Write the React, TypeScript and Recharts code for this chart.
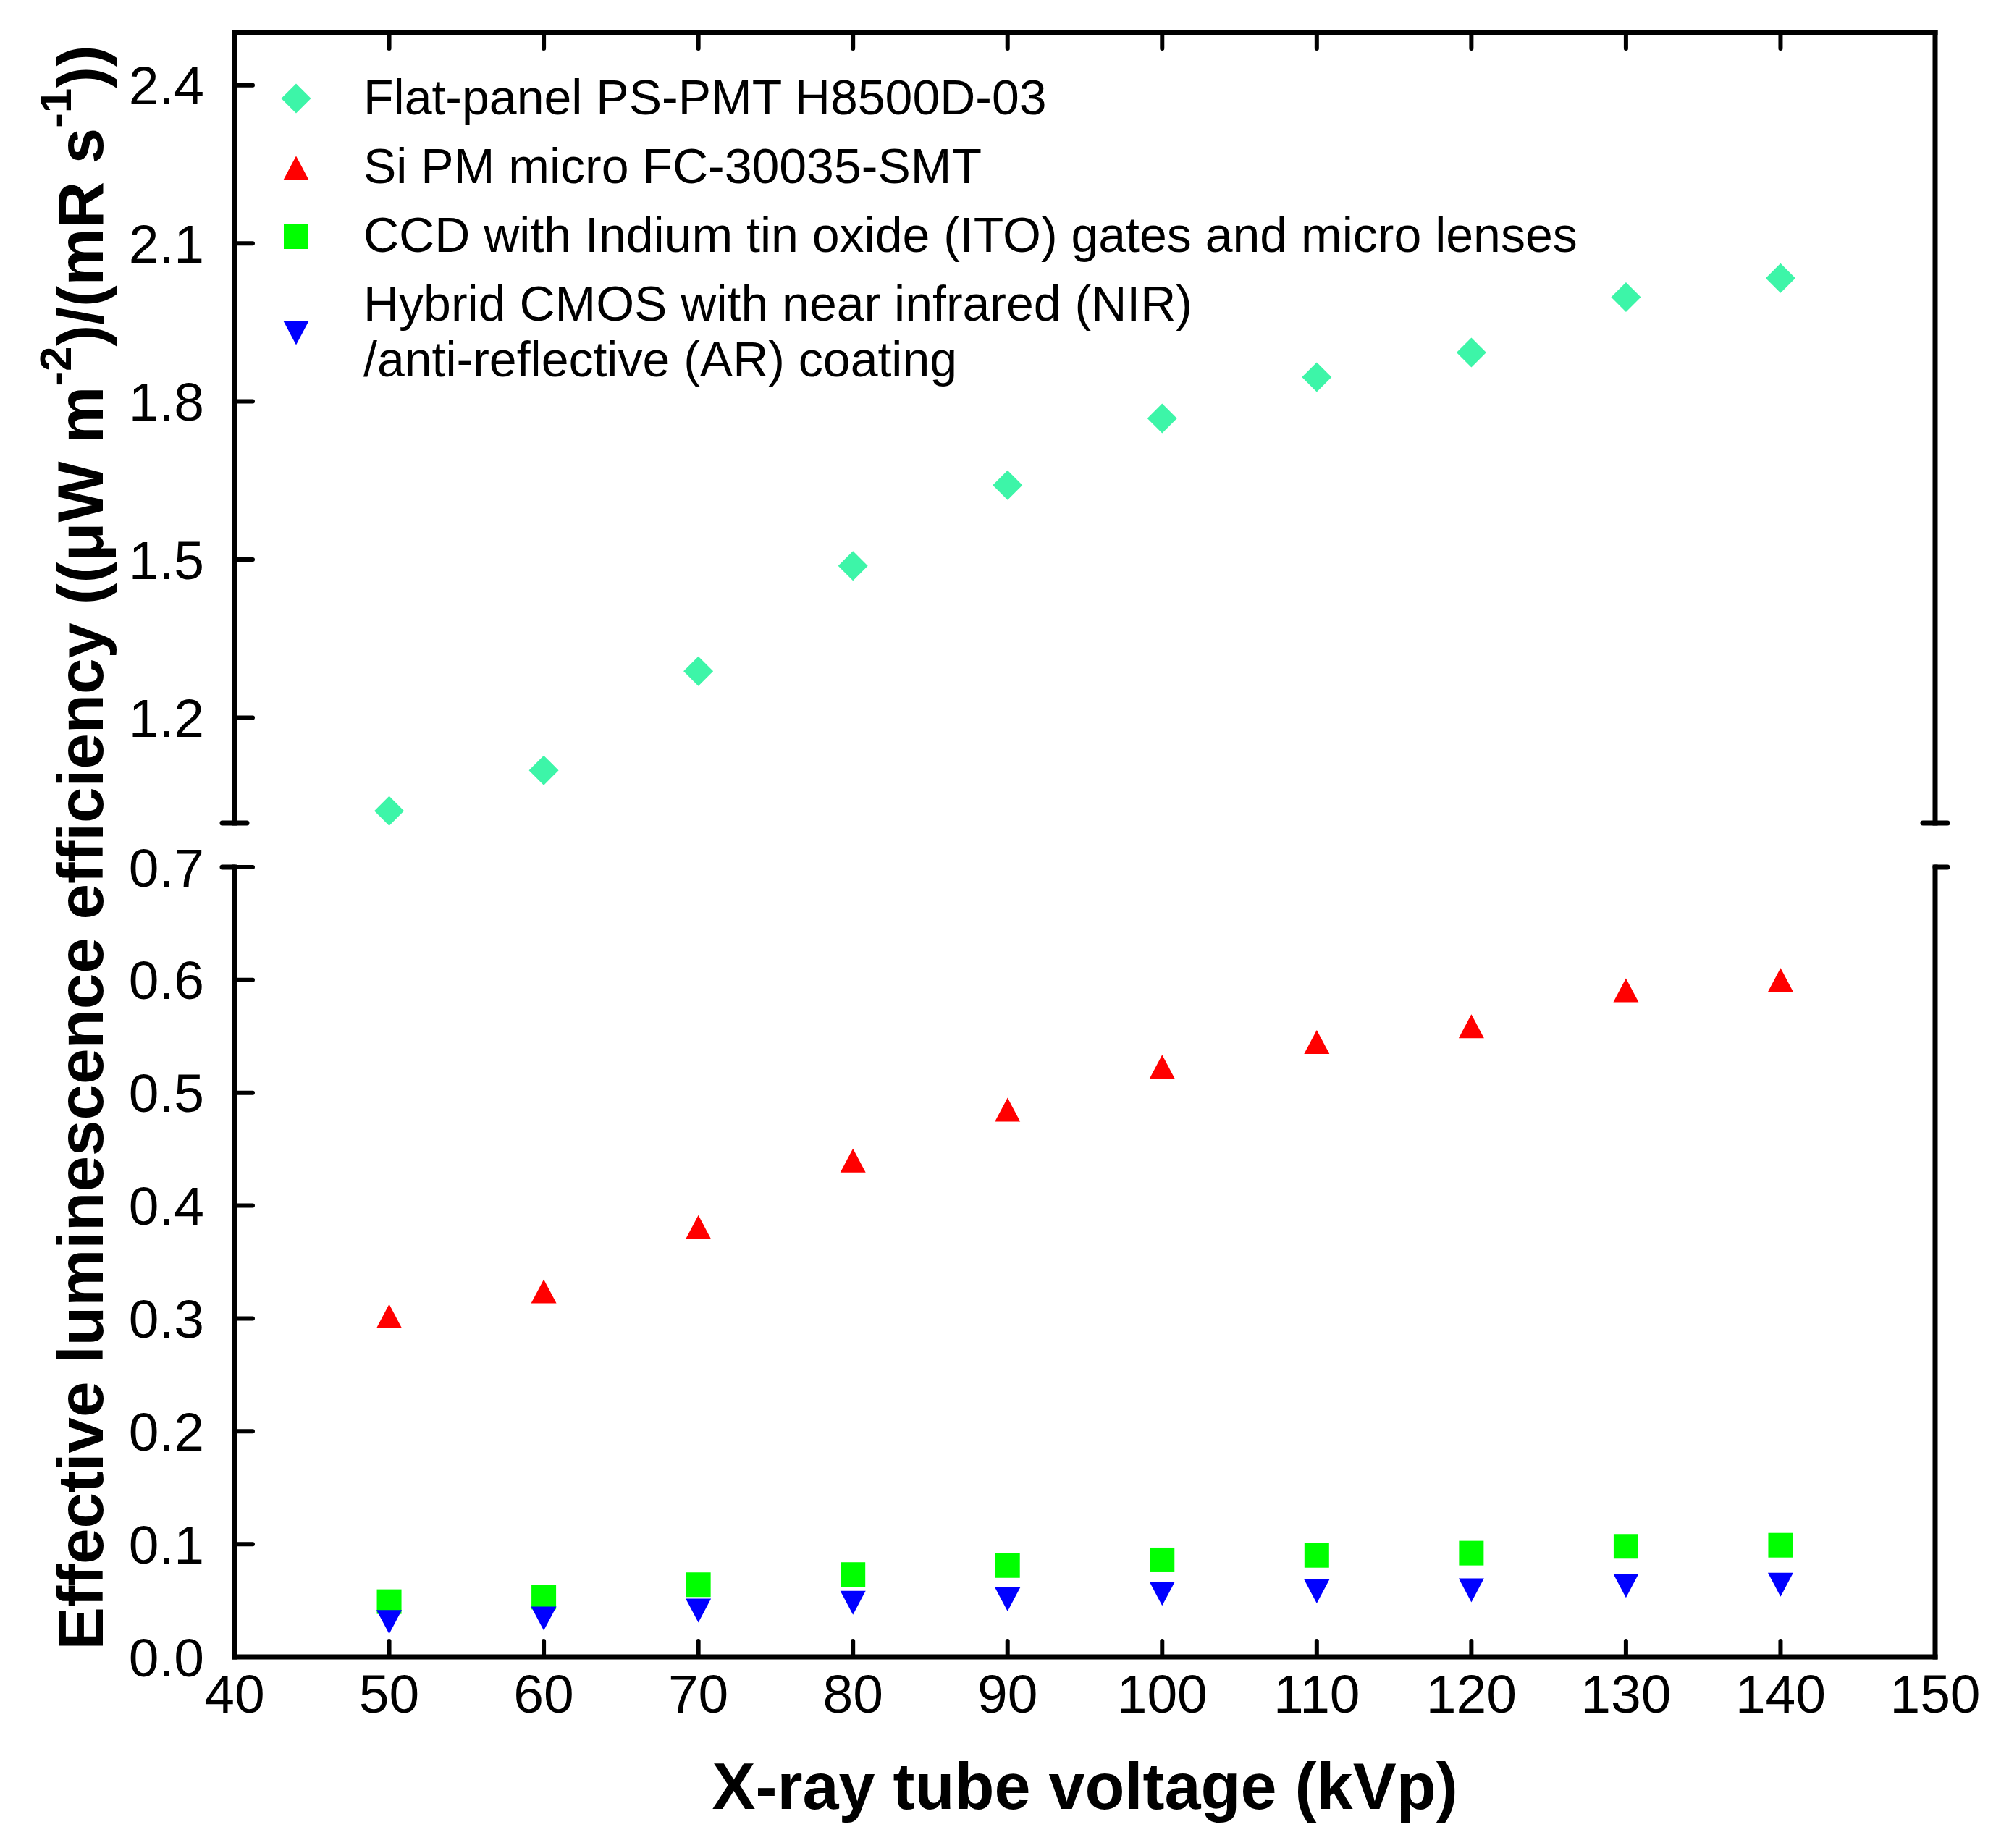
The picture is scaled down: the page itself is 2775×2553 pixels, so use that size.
import React from 'react';
import { ScatterChart, Scatter, XAxis, YAxis, Legend } from 'recharts';

// X-ray tube voltage (kVp)
const KVP = [50, 60, 70, 80, 90, 100, 110, 120, 130, 140];

// Effective luminescence efficiency per detector
const PSPMT = [1.023, 1.1, 1.288, 1.488, 1.641, 1.768, 1.846, 1.893, 1.998, 2.034];
const SIPM = [0.302, 0.324, 0.381, 0.44, 0.485, 0.523, 0.545, 0.559, 0.591, 0.6];
const CCD = [0.049, 0.053, 0.064, 0.073, 0.081, 0.086, 0.09, 0.092, 0.098, 0.099];
const CMOS = [0.031, 0.034, 0.041, 0.048, 0.051, 0.056, 0.058, 0.059, 0.063, 0.064];

const X_TICKS = [40, 50, 60, 70, 80, 90, 100, 110, 120, 130, 140, 150];
const UPPER_TICKS = [1.2, 1.5, 1.8, 2.1, 2.4];
const LOWER_TICKS = [0, 0.1, 0.2, 0.3, 0.4, 0.5, 0.6, 0.7];

const LEGEND_LABELS = [
  ['Flat-panel PS-PMT H8500D-03'],
  ['Si PM micro FC-30035-SMT'],
  ['CCD with Indium tin oxide (ITO) gates and micro lenses'],
  ['Hybrid CMOS with near infrared (NIR)', '/anti-reflective (AR) coating'],
];

const FONT = '"Liberation Sans", Arial, Helvetica, sans-serif';
const COLORS = {
  pspmt: '#3DF5A8',
  sipm: '#FF0000',
  ccd: '#00FF00',
  cmos: '#0000FF',
};

// layout (px, relative to the chart container)
const W = 2759;
const UPPER_H = 1160;
const LOWER_H = 1377;
const PLOT_LEFT = 316;
const PLOT_RIGHT = 2665;
const UPPER_BOTTOM = 1129;
const LOWER_TOP = UPPER_H + 30;

const toPoints = (ys: number[]) => KVP.map((x, i) => ({ x, y: ys[i] }));

const axisLine = { stroke: '#000', strokeWidth: 7, strokeLinecap: 'square' as const };
const tickLine = { stroke: '#000', strokeWidth: 6, strokeLinecap: 'round' as const };
const tickStyle = { fill: '#000', fontSize: 75, fontFamily: FONT };

const diamond = (color: string, r = 20.5) => (p: any) => (
  <polygon
    points={`${p.cx},${p.cy - r} ${p.cx + r},${p.cy} ${p.cx},${p.cy + r} ${p.cx - r},${p.cy}`}
    fill={color}
  />
);
const triUp = (color: string, w = 35, h = 33) => (p: any) => (
  <polygon
    points={`${p.cx},${p.cy - h / 2} ${p.cx + w / 2},${p.cy + h / 2} ${p.cx - w / 2},${p.cy + h / 2}`}
    fill={color}
  />
);
const triDown = (color: string, w = 35, h = 33) => (p: any) => (
  <polygon
    points={`${p.cx - w / 2},${p.cy - h / 2} ${p.cx + w / 2},${p.cy - h / 2} ${p.cx},${p.cy + h / 2}`}
    fill={color}
  />
);
const square = (color: string, s = 34) => (p: any) => (
  <rect x={p.cx - s / 2} y={p.cy - s / 2} width={s} height={s} fill={color} />
);

const LEGEND_SHAPES = [
  diamond(COLORS.pspmt),
  triUp(COLORS.sipm),
  square(COLORS.ccd),
  triDown(COLORS.cmos),
];
const ROW_TOPS = [88, 183, 278, 373];
const SYMBOL_Y = [40, 41, 41, 79];

const LegendBox = () => (
  <div style={{ position: 'relative', width: 2000, height: 500, fontFamily: FONT }}>
    {LEGEND_LABELS.map((lines, i) => (
      <div key={i} style={{ position: 'absolute', left: 0, top: ROW_TOPS[i] }}>
        <svg
          width={60}
          height={60}
          style={{ position: 'absolute', left: 371, top: SYMBOL_Y[i] - 30 }}
        >
          {LEGEND_SHAPES[i]({ cx: 30, cy: 30 })}
        </svg>
        <div
          style={{
            position: 'absolute',
            left: 494,
            top: 0,
            fontSize: 68,
            lineHeight: '77px',
            whiteSpace: 'nowrap',
            color: '#000',
          }}
        >
          {lines.map((t, j) => (
            <div key={j}>{t}</div>
          ))}
        </div>
      </div>
    ))}
  </div>
);

export default function App() {
  const capL = PLOT_LEFT;
  const capR = PLOT_RIGHT;
  const cap = { stroke: '#000', strokeWidth: 7, strokeLinecap: 'round' as const };

  return (
    <div style={{ position: 'relative', width: W, height: UPPER_H + LOWER_H, fontFamily: FONT }}>
      <ScatterChart
        width={W}
        height={UPPER_H}
        margin={{ top: 36, right: 84, bottom: 31, left: 116 }}
      >
        <XAxis
          type="number"
          dataKey="x"
          orientation="top"
          domain={[40, 150]}
          ticks={X_TICKS}
          interval={0}
          height={1}
          axisLine={axisLine}
          tickLine={tickLine}
          tickSize={-22}
          tickFormatter={() => ''}
        />
        <YAxis
          yAxisId="left"
          type="number"
          dataKey="y"
          domain={[1.0, 2.5]}
          ticks={UPPER_TICKS}
          interval={0}
          width={200}
          axisLine={axisLine}
          tickLine={tickLine}
          tickSize={-25}
          tickMargin={67}
          tick={tickStyle}
          tickFormatter={(v: number) => v.toFixed(1)}
        />
        <YAxis
          yAxisId="right"
          orientation="right"
          type="number"
          dataKey="y"
          domain={[1.0, 2.5]}
          ticks={UPPER_TICKS}
          interval={0}
          width={10}
          axisLine={axisLine}
          tickLine={tickLine}
          tickSize={-25}
          tickFormatter={() => ''}
        />
        <Legend
          layout="vertical"
          align="center"
          verticalAlign="middle"
          wrapperStyle={{ left: 0, top: 0 }}
          content={() => <LegendBox />}
        />
        <Scatter
          name={LEGEND_LABELS[0][0]}
          yAxisId="left"
          data={toPoints(PSPMT)}
          fill={COLORS.pspmt}
          shape={diamond(COLORS.pspmt)}
          isAnimationActive={false}
        />
      </ScatterChart>

      <ScatterChart
        width={W}
        height={LOWER_H}
        margin={{ top: 30, right: 84, bottom: 26, left: 116 }}
      >
        <XAxis
          type="number"
          dataKey="x"
          domain={[40, 150]}
          ticks={X_TICKS}
          interval={0}
          height={230}
          axisLine={axisLine}
          tickLine={tickLine}
          tickSize={-22}
          tickMargin={46}
          tick={tickStyle}
          label={{
            value: 'X-ray tube voltage (kVp)',
            position: 'insideBottom',
            offset: 20,
            fontSize: 90,
            fontWeight: 'bold',
            fill: '#000',
            fontFamily: FONT,
          }}
        />
        <YAxis
          yAxisId="left"
          type="number"
          dataKey="y"
          domain={[0, 0.7]}
          ticks={LOWER_TICKS}
          interval={0}
          width={200}
          axisLine={axisLine}
          tickLine={tickLine}
          tickSize={-25}
          tickMargin={67}
          tick={tickStyle}
          tickFormatter={(v: number) => v.toFixed(1)}
        />
        <YAxis
          yAxisId="right"
          orientation="right"
          type="number"
          dataKey="y"
          domain={[0, 0.7]}
          ticks={LOWER_TICKS}
          interval={0}
          width={10}
          axisLine={axisLine}
          tickLine={tickLine}
          tickSize={-25}
          tickFormatter={() => ''}
        />
        <Scatter
          name={LEGEND_LABELS[1][0]}
          yAxisId="left"
          data={toPoints(SIPM)}
          fill={COLORS.sipm}
          shape={triUp(COLORS.sipm)}
          isAnimationActive={false}
        />
        <Scatter
          name={LEGEND_LABELS[2][0]}
          yAxisId="left"
          data={toPoints(CCD)}
          fill={COLORS.ccd}
          shape={square(COLORS.ccd)}
          isAnimationActive={false}
        />
        <Scatter
          name={LEGEND_LABELS[3].join(' ')}
          yAxisId="left"
          data={toPoints(CMOS)}
          fill={COLORS.cmos}
          shape={triDown(COLORS.cmos)}
          isAnimationActive={false}
        />
      </ScatterChart>

      {/* y-axis title and axis-break caps, shared by both panels */}
      <svg
        width={W}
        height={UPPER_H + LOWER_H}
        style={{ position: 'absolute', left: 0, top: 0, pointerEvents: 'none' }}
      >
        <line x1={capL - 17} y1={UPPER_BOTTOM} x2={capL + 17} y2={UPPER_BOTTOM} {...cap} />
        <line x1={capL - 17} y1={LOWER_TOP} x2={capL} y2={LOWER_TOP} {...cap} />
        <line x1={capR - 17} y1={UPPER_BOTTOM} x2={capR + 17} y2={UPPER_BOTTOM} {...cap} />
        <line x1={capR} y1={LOWER_TOP} x2={capR + 17} y2={LOWER_TOP} {...cap} />
        <g transform="translate(134, 1163) rotate(-90)">
          <text
            x={0}
            y={0}
            textAnchor="middle"
            fontSize={89}
            fontWeight="bold"
            fontFamily={FONT}
            fill="#000"
          >
            Effective luminescence efficiency ((μW m
            <tspan fontSize={62} dy={-44}>-2</tspan>
            <tspan dy={44}>)/(mR s</tspan>
            <tspan fontSize={62} dy={-44}>-1</tspan>
            <tspan dy={44}>))</tspan>
          </text>
        </g>
      </svg>
    </div>
  );
}
